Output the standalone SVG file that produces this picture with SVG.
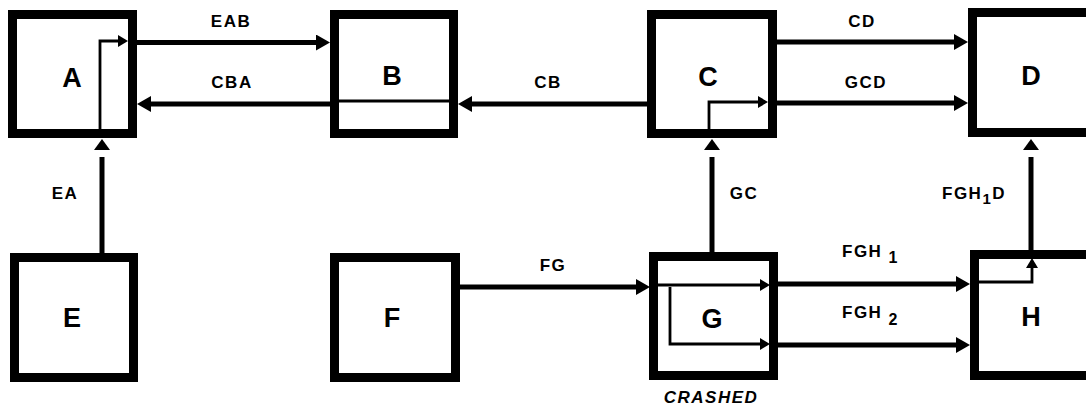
<svg xmlns="http://www.w3.org/2000/svg" width="1086" height="408" viewBox="0 0 1086 408">
<style>
.box{fill:#fff;stroke:#000;stroke-width:9}
.nl{font-family:"Liberation Sans",Arial,sans-serif;font-weight:bold;font-size:27px;text-anchor:middle;fill:#000}
.el{font-family:"Liberation Sans",Arial,sans-serif;font-weight:bold;font-size:17px;letter-spacing:1.5px;fill:#000}
.thick{fill:none;stroke:#000;stroke-width:5}
.thin{fill:none;stroke:#000;stroke-width:2.8}
</style>
<defs>
<marker id="big" markerUnits="userSpaceOnUse" viewBox="0 0 14 16" markerWidth="14" markerHeight="16" refX="9" refY="8" orient="auto"><path d="M0,0 L14,8 L0,16 z" fill="#000"/></marker>
<marker id="small" markerUnits="userSpaceOnUse" viewBox="0 0 10 12" markerWidth="10" markerHeight="12" refX="7" refY="6" orient="auto"><path d="M0,0 L10,6 L0,12 z" fill="#000"/></marker>
<marker id="gap" markerUnits="userSpaceOnUse" viewBox="0 0 18 16" markerWidth="18" markerHeight="16" refX="0" refY="8" orient="auto"><path d="M7,0 L18,8 L7,16 z" fill="#000"/></marker>
</defs>
<g id="A"><rect class="box" x="12.5" y="14.5" width="120" height="119"/><text class="nl" x="72" y="87">A</text></g>
<g id="B"><rect class="box" x="334.5" y="14.5" width="119" height="119"/><text class="nl" x="392" y="85">B</text></g>
<g id="C"><rect class="box" x="651.5" y="14.5" width="121" height="119"/><text class="nl" x="708" y="86">C</text></g>
<g id="D"><rect class="box" x="972.5" y="12.5" width="200" height="120"/><text class="nl" x="1031" y="85">D</text></g>
<g id="E"><rect class="box" x="14.5" y="257.5" width="119" height="120"/><text class="nl" x="72" y="327">E</text></g>
<g id="F"><rect class="box" x="334.5" y="257.5" width="121" height="120"/><text class="nl" x="392" y="327">F</text></g>
<g id="G"><rect class="box" x="653.5" y="256.5" width="120" height="119"/><text class="nl" x="712" y="328">G</text>
<text class="el" x="711" y="403" text-anchor="middle" font-style="italic" font-size="16" letter-spacing="1.8">CRASHED</text></g>
<g id="H"><rect class="box" x="974.5" y="254.5" width="200" height="121"/><text class="nl" x="1031" y="326">H</text></g>
<g id="connectors">
<path class="thick" d="M137,42.5 H325" marker-end="url(#big)"/>
<path class="thick" d="M330,104 H142" marker-end="url(#big)"/>
<path class="thick" d="M647,104 H463" marker-end="url(#big)"/>
<path class="thin" d="M338,101 H450"/>
<path class="thick" d="M777,42 H963" marker-end="url(#big)"/>
<path class="thick" d="M777,103 H963" marker-end="url(#big)"/>
<path class="thick" d="M460,287 H645" marker-end="url(#big)"/>
<path class="thick" d="M778,284 H965" marker-end="url(#big)"/>
<path class="thick" d="M778,345 H965" marker-end="url(#big)"/>
<path class="thick" d="M102,253 V157" marker-end="url(#gap)"/>
<path class="thick" d="M712,252 V157" marker-end="url(#gap)"/>
<path class="thick" d="M1031,250 V157" marker-end="url(#gap)"/>
<path class="thin" d="M100,134 V41 H125" marker-end="url(#small)"/>
<path class="thin" d="M709,134 V102 H765" marker-end="url(#small)"/>
<path class="thin" d="M657,285 H767" marker-end="url(#small)"/>
<path class="thin" d="M670,287 V344 H767" marker-end="url(#small)"/>
<path class="thin" d="M978,282 H1032 V261" marker-end="url(#small)"/>
<text class="el" x="231" y="27" text-anchor="middle">EAB</text>
<text class="el" x="232" y="88" text-anchor="middle">CBA</text>
<text class="el" x="548" y="88" text-anchor="middle">CB</text>
<text class="el" x="862" y="27" text-anchor="middle">CD</text>
<text class="el" x="866" y="88" text-anchor="middle">GCD</text>
<text class="el" x="65" y="199" text-anchor="middle">EA</text>
<text class="el" x="744" y="199" text-anchor="middle">GC</text>
<text class="el" x="942" y="199">FGH<tspan dy="5" font-size="15">1</tspan><tspan dy="-5">D</tspan></text>
<text class="el" x="553" y="271" text-anchor="middle">FG</text>
<text class="el" x="842" y="257">FGH <tspan dy="6" font-size="16">1</tspan></text>
<text class="el" x="842" y="318">FGH <tspan dy="7" font-size="16">2</tspan></text>
</g>
</svg>
